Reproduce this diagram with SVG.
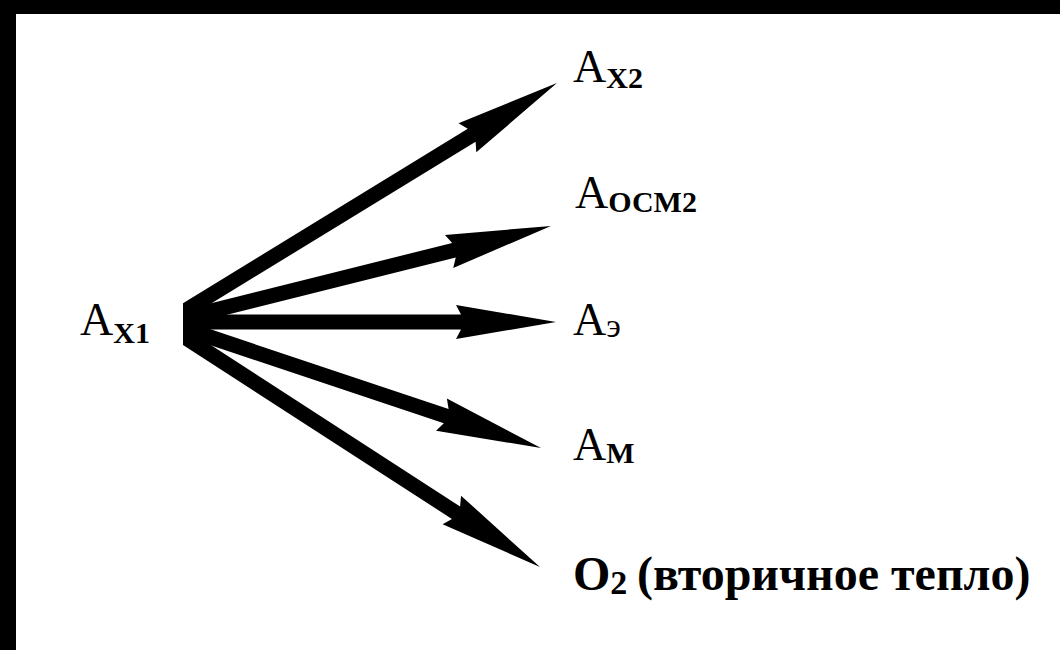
<svg xmlns="http://www.w3.org/2000/svg" width="1060" height="650" viewBox="0 0 1060 650">
  <style>
    .t { font-family: "Liberation Serif", "Times New Roman", serif; fill: #000; }
    .big { font-size: 46px; font-weight: normal; }
    .sub { font-size: 30px; font-weight: bold; }
    .bold { font-weight: bold; }
    .arrow { fill: #000; }
  </style>
  <defs>
    <clipPath id="fanClip" clipPathUnits="userSpaceOnUse">
      <rect x="183" y="0" width="877" height="650"/>
    </clipPath>
  </defs>
  <rect x="0" y="0" width="1060" height="650" fill="#fff"/>
  <g id="frame">
    <rect x="0" y="0" width="16" height="650" fill="#000"/>
    <rect x="0" y="0" width="1060" height="14" fill="#000"/>
  </g>

  <g id="connectors" clip-path="url(#fanClip)">
    <g transform="translate(183,312) rotate(-31.48)">
      <polygon class="arrow" points="-20,-7.5 338.5,-7.5 333.5,-17 438.5,0 333.5,17 338.5,7.5 -20,7.5"/>
    </g>
    <g transform="translate(183,318) rotate(-14.04)">
      <polygon class="arrow" points="-20,-7.5 279.3,-7.5 274.3,-17 379.3,0 274.3,17 279.3,7.5 -20,7.5"/>
    </g>
    <g transform="translate(183,322)">
      <polygon class="arrow" points="-20,-7.5 278,-7.5 273,-17 373,0 273,17 278,7.5 -20,7.5"/>
    </g>
    <g transform="translate(183,328) rotate(18.53)">
      <polygon class="arrow" points="-20,-7.5 277.6,-7.5 272.6,-17 377.6,0 272.6,17 277.6,7.5 -20,7.5"/>
    </g>
    <g transform="translate(183,336) rotate(32.91)">
      <polygon class="arrow" points="-20,-7.5 325.2,-7.5 320.2,-17 425.2,0 320.2,17 325.2,7.5 -20,7.5"/>
    </g>
  </g>

  <g id="node-ax1">
    <text class="t big" x="80" y="335">А<tspan class="sub" y="343">Х1</tspan></text>
  </g>
  <g id="node-ax2">
    <text class="t big" x="573" y="82">А<tspan class="sub" y="88">Х2</tspan></text>
  </g>
  <g id="node-aosm2">
    <text class="t big" x="575" y="208">А<tspan class="sub" y="212">ОСМ2</tspan></text>
  </g>
  <g id="node-ae">
    <text class="t big" x="573" y="335">А<tspan style="font-size:34px" y="337">э</tspan></text>
  </g>
  <g id="node-am">
    <text class="t big" x="573" y="460">А<tspan class="sub" y="463">М</tspan></text>
  </g>
  <g id="node-o2">
    <text class="t bold" style="font-size:48px" x="573" y="590">О<tspan style="font-size:34px" y="594">2</tspan></text>
    <text class="t bold" style="font-size:48px" x="637" y="590">(вторичное тепло)</text>
  </g>
</svg>
